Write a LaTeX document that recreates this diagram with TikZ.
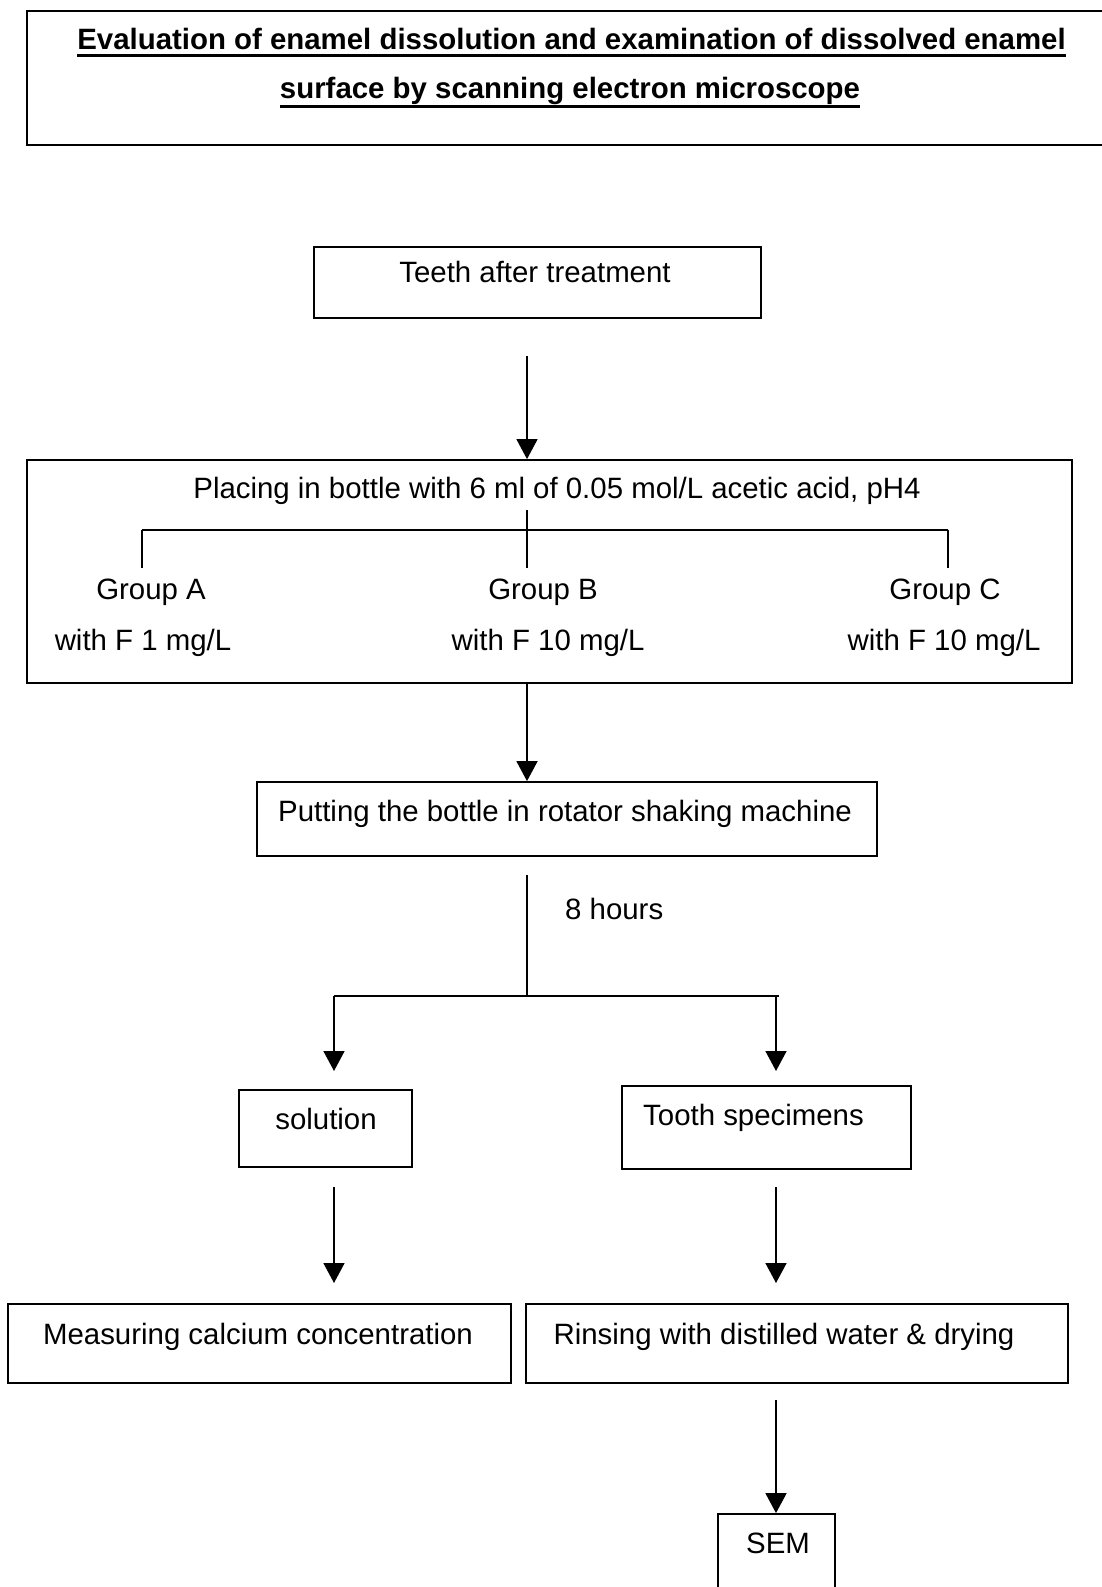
\documentclass[tikz,border=0pt]{standalone}
\usepackage{fontspec}
\setmainfont{Liberation Sans}
\usetikzlibrary{arrows.meta}
\begin{document}
\begin{tikzpicture}[x=1pt,y=-1pt,
  box/.style={draw=black,line width=1.8pt,minimum width=#1,inner sep=0pt},
  txt/.style={inner sep=0pt,anchor=base,font=\fontsize{29.4}{34}\selectfont},
  ttl/.style={inner sep=0pt,anchor=base,font=\fontsize{29.4}{34}\selectfont\bfseries},
  ln/.style={line width=1.6pt},
  arr/.style={line width=1.6pt,-{Triangle[length=20pt,width=21pt]}}]
\useasboundingbox (0,0) rectangle (1101,1587);
% title box (right side runs off the page)
\draw[line width=2pt] (1120,11) -- (27,11) -- (27,145) -- (1120,145);
\node[ttl] (t1) at (571.5,49) {Evaluation of enamel dissolution and examination of dissolved enamel};
\node[ttl] (t2) at (570,99) {surface by scanning electron microscope};
\draw[line width=3pt] ([yshift=-7pt]t1.base west) -- ([yshift=-7pt]t1.base east);
\draw[line width=3pt] ([yshift=-7pt]t2.base west) -- ([yshift=-7pt]t2.base east);
% boxes
\node[box=447pt,minimum height=71pt] (teeth) at (537.5,282.5) {};
\node[box=1045pt,minimum height=223pt] (place) at (549.5,571.5) {};
\node[box=620pt,minimum height=74pt] (put) at (567,819) {};
\node[box=173pt,minimum height=77pt] (sol) at (325.5,1128.5) {};
\node[box=289pt,minimum height=83pt] (tooth) at (766.5,1127.5) {};
\node[box=503pt,minimum height=79pt] (meas) at (259.5,1343.5) {};
\node[box=542pt,minimum height=79pt] (rinse) at (797,1343.5) {};
\node[box=117pt,minimum height=100pt] (sem) at (776.5,1564) {};
% texts
\node[txt] (teethT) at (535,282) {Teeth after treatment};
\node[txt] (placeT) at (557,498) {Placing in bottle with 6 ml of 0.05 mol/L acetic acid, pH4};
\node[txt] (gA) at (151,599) {Group A};
\node[txt] (fA) at (143,650) {with F 1 mg/L};
\node[txt] (gB) at (543,599) {Group B};
\node[txt] (fB) at (548,650) {with F 10 mg/L};
\node[txt] (gC) at (945,599) {Group C};
\node[txt] (fC) at (944,650) {with F 10 mg/L};
\node[txt] (putT) at (565,821) {Putting the bottle in rotator shaking machine};
\node[txt,anchor=base west] (hrs) at (565,919) {8 hours};
\node[txt] (solT) at (326,1129) {solution};
\node[txt,anchor=base west] (toothT) at (643,1125) {Tooth specimens};
\node[txt] (measT) at (258,1344) {Measuring calcium concentration};
\node[txt] (rinseT) at (784,1344) {Rinsing with distilled water \& drying};
\node[txt] (semT) at (778,1553) {SEM};
% coordinates
\coordinate (a1) at (527,356);
\coordinate (bTop) at (527,510);
\coordinate (bMid) at (527,530);
\coordinate (bA) at (142,530);
\coordinate (bC) at (948,530);
\coordinate (bEnd) at (0,568);
\coordinate (s0) at (527,875);
\coordinate (s1) at (527,996);
\coordinate (sL) at (334,996);
\coordinate (sR) at (776,996);
\coordinate (sRx) at (779,996);
\coordinate (tipY) at (0,1071);
\coordinate (l1) at (334,1187);
\coordinate (r1) at (776,1187);
\coordinate (tip2) at (0,1283);
\coordinate (r2) at (776,1400);
% connectors
\draw[arr] (a1) -- (a1 |- place.north);
\draw[ln] (bTop) -- (bTop |- bEnd);
\draw[ln] (bA) -- (bC);
\draw[ln] (bA) -- (bA |- bEnd);
\draw[ln] (bC) -- (bC |- bEnd);
\draw[arr] (place.south -| a1) -- (put.north -| a1);
\draw[ln] (s0) -- (s1);
\draw[ln] (sL) -- (sRx);
\draw[arr] (sL) -- (sL |- tipY);
\draw[arr] (sR) -- (sR |- tipY);
\draw[arr] (l1) -- (l1 |- tip2);
\draw[arr] (r1) -- (r1 |- tip2);
\draw[arr] (r2) -- (r2 |- sem.north);
\end{tikzpicture}
\end{document}
